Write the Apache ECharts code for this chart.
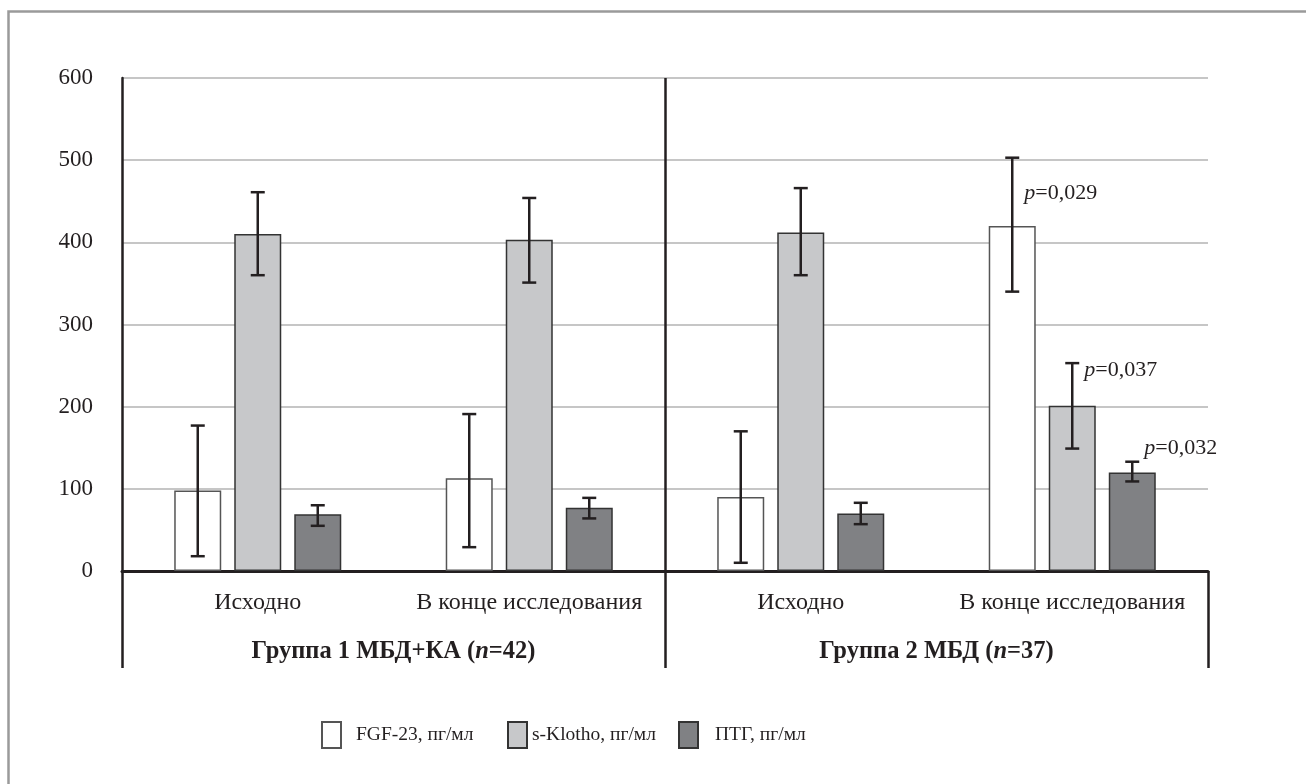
<!DOCTYPE html>
<html>
<head>
<meta charset="utf-8">
<script src="https://cdn.jsdelivr.net/npm/echarts@6/dist/echarts.min.js"></script>
<style>
  html, body { margin: 0; background: #fff; }
  #chart { width: 1306px; height: 784px; }
</style>
</head>
<body>
<div id="chart"></div>
<script>
// data
const categories = ['Исходно', 'В конце исследования', 'Исходно', 'В конце исследования'];
const groups = ['Группа 1 МБД+КА ({i|n}=42)', 'Группа 2 МБД ({i|n}=37)'];
const seriesNames = ['FGF-23, пг/мл', 's-Klotho, пг/мл', 'ПТГ, пг/мл'];
const yTicks = [0, 100, 200, 300, 400, 500, 600];

const fgf23 = [98, 113, 90, 420];
const fgf23Low = [18, 29, 10, 340];
const fgf23High = [177, 191, 170, 503];

const klotho = [410, 403, 412, 201];
const klothoLow = [360, 351, 360, 149];
const klothoHigh = [461, 454, 466, 253];

const ptg = [69, 77, 70, 120];
const ptgLow = [55, 64, 57, 109];
const ptgHigh = [80, 89, 83, 133];

// p-values shown next to group 2 "end of study" bars
const pCat = [3, 3, 3];
const pSeries = [0, 1, 2];
const pAnchor = [460, 244, 149];
const pText = ['0,029', '0,037', '0,032'];

const FONT = '"Liberation Serif", "DejaVu Serif", serif';
const INK = '#231f20';
const barWidth = 47;
const step = 60; // distance between bar centres in a category

const values = [fgf23, klotho, ptg];
const lows = [fgf23Low, klothoLow, ptgLow];
const highs = [fgf23High, klothoHigh, ptgHigh];
const fills = ['#ffffff', '#c7c8ca', '#808184'];
const borders = ['#555555', '#333333', '#333333'];

const errorData = [];
values.forEach((v, s) => {
  v.forEach((_, c) => errorData.push([c, s, lows[s][c], highs[s][c]]));
});
const noteData = pCat.map((c, i) => [c, pSeries[i], pAnchor[i], pText[i]]);

const chart = echarts.init(document.getElementById('chart'));

function renderError(params, api) {
  const s = api.value(1);
  const lo = api.coord([api.value(0), api.value(2)]);
  const hi = api.coord([api.value(0), api.value(3)]);
  const x = lo[0] + (s - 1) * step;
  const style = { stroke: INK, lineWidth: 2.5 };
  return {
    type: 'group',
    children: [
      { type: 'line', shape: { x1: x, y1: lo[1], x2: x, y2: hi[1] }, style: style },
      { type: 'line', shape: { x1: x - 7, y1: lo[1], x2: x + 7, y2: lo[1] }, style: style },
      { type: 'line', shape: { x1: x - 7, y1: hi[1], x2: x + 7, y2: hi[1] }, style: style }
    ]
  };
}

function renderNote(params, api) {
  const s = api.value(1);
  const p = api.coord([api.value(0), api.value(2)]);
  return {
    type: 'text',
    x: p[0] + (s - 1) * step + 12,
    y: p[1],
    style: {
      text: '{i|p}=' + api.value(3),
      fill: INK,
      font: '22px ' + FONT,
      verticalAlign: 'middle',
      align: 'left',
      rich: { i: { fontStyle: 'italic', fontSize: 22, fontFamily: FONT, fill: INK } }
    }
  };
}

const legendLeft = [316, 502, 673];
const legendPad = [10, 0, 12];

const option = {
  backgroundColor: '#fff',
  animation: false,
  grid: { left: 122, right: 98, top: 78, bottom: 213 },
  graphic: [{
    type: 'rect',
    shape: { x: 8.5, y: 11.5, width: 1400, height: 900 },
    style: { fill: 'none', stroke: '#9a9a9a', lineWidth: 2.5 },
    silent: true
  }],
  legend: seriesNames.map((n, i) => ({
    data: [n],
    left: legendLeft[i],
    top: 716,
    icon: 'rect',
    itemWidth: 19,
    itemHeight: 26,
    selectedMode: false,
    textStyle: {
      fontFamily: FONT, fontSize: 19.5, color: INK,
      padding: [0, 0, 0, legendPad[i]]
    }
  })),
  xAxis: [{
    type: 'category',
    data: categories,
    axisLine: { lineStyle: { color: INK, width: 3 } },
    axisTick: { show: false },
    axisLabel: { interval: 0, fontFamily: FONT, fontSize: 24, color: INK, margin: 20 }
  }, {
    type: 'category',
    data: groups,
    position: 'bottom',
    offset: 97,
    axisLine: { show: false },
    axisTick: { show: true, inside: true, length: 97, interval: 0, lineStyle: { color: INK, width: 2.5 } },
    axisLabel: {
      interval: 0, inside: true, margin: 4, fontFamily: FONT, fontSize: 24.5, fontWeight: 'bold', color: INK,
      rich: { i: { fontFamily: FONT, fontSize: 24.5, fontWeight: 'bold', fontStyle: 'italic', color: INK } }
    },
    splitLine: { show: true, showMinLine: false, showMaxLine: false, lineStyle: { color: INK, width: 2.5 } }
  }],
  yAxis: {
    type: 'value',
    min: yTicks[0],
    max: yTicks[yTicks.length - 1],
    interval: 100,
    axisLine: { show: true, lineStyle: { color: INK, width: 2.5 } },
    axisTick: { show: false },
    axisLabel: { fontFamily: FONT, fontSize: 23, color: INK, margin: 29 },
    splitLine: { lineStyle: { color: '#b3b3b3', width: 1.5 } }
  },
  series: [
    ...seriesNames.map((n, i) => ({
      name: n,
      type: 'bar',
      xAxisIndex: 0,
      data: values[i],
      barWidth: barWidth,
      barGap: ((step - barWidth) / barWidth * 100).toFixed(1) + '%',
      itemStyle: { color: fills[i], borderColor: borders[i], borderWidth: 1.5 }
    })),
    {
      type: 'custom',
      xAxisIndex: 0,
      renderItem: renderError,
      data: errorData,
      encode: { x: 0, y: [2, 3] },
      z: 5,
      silent: true
    },
    {
      type: 'custom',
      xAxisIndex: 0,
      renderItem: renderNote,
      data: noteData,
      encode: { x: 0, y: 2 },
      z: 6,
      silent: true
    }
  ]
};

chart.setOption(option);
</script>
</body>
</html>
